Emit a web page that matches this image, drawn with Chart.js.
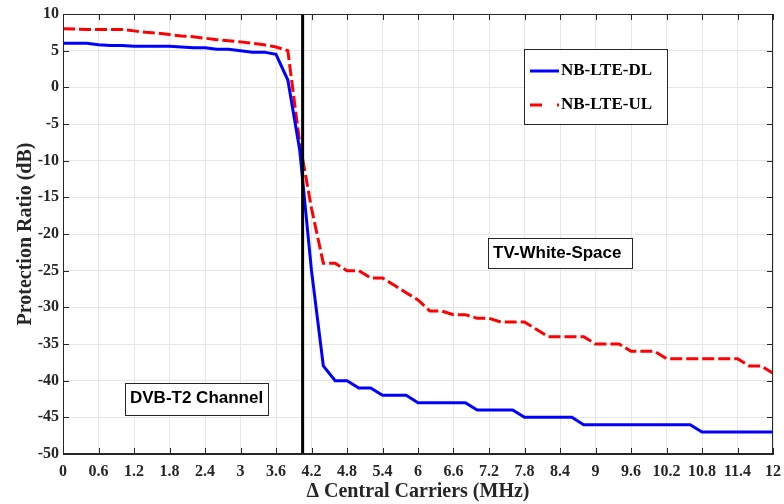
<!DOCTYPE html>
<html>
<head>
<meta charset="utf-8">
<script src="https://cdn.jsdelivr.net/npm/chart.js@4.4.1/dist/chart.umd.min.js"></script>
<style>
  html, body { margin: 0; padding: 0; background: #fff; }
  canvas { display: block; }
</style>
</head>
<body>
<canvas id="grafico" width="784" height="504"></canvas>
<script>
// Datos (separacion entre portadoras en MHz)
const frecuencias = [
  0, 0.2, 0.4, 0.6, 0.8, 1.0, 1.2, 1.4, 1.6, 1.8,
  2.0, 2.2, 2.4, 2.6, 2.8, 3.0, 3.2, 3.4, 3.6, 3.8,
  4.0, 4.2, 4.4, 4.6, 4.8, 5.0, 5.2, 5.4, 5.6, 5.8,
  6.0, 6.2, 6.4, 6.6, 6.8, 7.0, 7.2, 7.4, 7.6, 7.8,
  8.0, 8.2, 8.4, 8.6, 8.8, 9.0, 9.2, 9.4, 9.6, 9.8,
  10.0, 10.2, 10.4, 10.6, 10.8, 11.0, 11.2, 11.4, 11.6, 11.8, 12.0
];

// NB-LTE downlink (dB)
const nbLteDL = [
  6.0, 6.0, 6.0, 5.8, 5.7, 5.7, 5.6, 5.6, 5.6, 5.6,
  5.5, 5.4, 5.4, 5.2, 5.2, 5.0, 4.8, 4.8, 4.5, 1.0,
  -8.5, -25, -38, -40, -40, -41, -41, -42, -42, -42,
  -43, -43, -43, -43, -43, -44, -44, -44, -44, -45,
  -45, -45, -45, -45, -46, -46, -46, -46, -46, -46,
  -46, -46, -46, -46, -47, -47, -47, -47, -47, -47, -47
];

// NB-LTE uplink (dB)
const nbLteUL = [
  8.0, 7.95, 7.9, 7.9, 7.9, 7.9, 7.7, 7.5, 7.4, 7.2,
  7.0, 6.9, 6.7, 6.5, 6.35, 6.2, 6.0, 5.8, 5.5, 5.0,
  -7.5, -16.5, -24, -24, -25, -25, -26, -26, -27, -28,
  -29, -30.5, -30.5, -31, -31, -31.5, -31.5, -32, -32, -32,
  -33, -34, -34, -34, -34, -35, -35, -35, -36, -36,
  -36, -37, -37, -37, -37, -37, -37, -37, -38, -38, -39
];

// Limite del canal DVB-T2
const limiteCanal = [4.05, 4.05];
const limiteCanalY = [-50, 10];

const nombresSeries = ['NB-LTE-DL', 'NB-LTE-UL'];
const etiquetasAnotacion = ['TV-White-Space', 'DVB-T2 Channel'];

const tituloX = '\u0394 Central Carriers (MHz)';
const tituloY = 'Protection Ratio (dB)';

const fuenteSerif = '"Liberation Serif", "Times New Roman", serif';
const fuenteSans = '"Liberation Sans", Arial, sans-serif';
const colorEjes = '#262626';

function aPuntos(xs, ys) {
  return xs.map((x, i) => ({ x: x, y: ys[i] }));
}

// Plugin: marco, ticks hacia dentro, leyenda y recuadros de texto
const decoraciones = {
  id: 'decoraciones',
  afterDatasetsDraw(chart) {
    const ctx = chart.ctx;
    const area = chart.chartArea;
    const sx = chart.scales.x;
    const sy = chart.scales.y;
    const largo = 6;

    ctx.save();
    // marco
    ctx.strokeStyle = colorEjes;
    ctx.lineWidth = 1;
    ctx.strokeRect(area.left + 0.5, area.top + 0.5, area.right - area.left - 1, area.bottom - area.top - 1);

    // ticks hacia dentro
    ctx.beginPath();
    sx.ticks.forEach(t => {
      const px = Math.round(sx.getPixelForValue(t.value)) + 0.5;
      ctx.moveTo(px, area.bottom);
      ctx.lineTo(px, area.bottom - largo);
      ctx.moveTo(px, area.top);
      ctx.lineTo(px, area.top + largo);
    });
    sy.ticks.forEach(t => {
      const py = Math.round(sy.getPixelForValue(t.value)) + 0.5;
      ctx.moveTo(area.left, py);
      ctx.lineTo(area.left + largo, py);
      ctx.moveTo(area.right, py);
      ctx.lineTo(area.right - largo, py);
    });
    ctx.stroke();

    // recuadros de texto
    function recuadro(x1, y1, x2, y2, texto, tx, ty) {
      ctx.fillStyle = '#fff';
      ctx.fillRect(x1, y1, x2 - x1, y2 - y1);
      ctx.strokeStyle = colorEjes;
      ctx.lineWidth = 1;
      ctx.strokeRect(x1 + 0.5, y1 + 0.5, x2 - x1, y2 - y1);
      ctx.fillStyle = '#000';
      ctx.font = 'bold 17px ' + fuenteSans;
      ctx.textAlign = 'left';
      ctx.textBaseline = 'alphabetic';
      ctx.fillText(texto, tx, ty);
    }
    recuadro(488, 238, 632, 268, etiquetasAnotacion[0], 493, 257.5);
    recuadro(125, 383, 268, 415, etiquetasAnotacion[1], 130, 403);

    // leyenda
    ctx.fillStyle = '#fff';
    ctx.fillRect(524, 49, 144, 76);
    ctx.strokeStyle = colorEjes;
    ctx.strokeRect(524.5, 49.5, 143, 75);

    ctx.lineWidth = 3;
    ctx.strokeStyle = '#0000ff';
    ctx.beginPath();
    ctx.moveTo(530, 71);
    ctx.lineTo(559, 71);
    ctx.stroke();

    ctx.strokeStyle = '#ff0000';
    ctx.setLineDash([12, 15]);
    ctx.beginPath();
    ctx.moveTo(530, 105);
    ctx.lineTo(559, 105);
    ctx.stroke();
    ctx.setLineDash([]);

    ctx.fillStyle = '#000';
    ctx.font = 'bold 17px ' + fuenteSerif;
    ctx.textBaseline = 'middle';
    ctx.fillText(nombresSeries[0], 561, 71);
    ctx.fillText(nombresSeries[1], 561, 105);
    ctx.restore();
  }
};

const ctx = document.getElementById('grafico').getContext('2d');

new Chart(ctx, {
  type: 'line',
  data: {
    datasets: [
      {
        label: 'DVB-T2',
        data: aPuntos(limiteCanal, limiteCanalY),
        borderColor: '#000',
        borderWidth: 3,
        pointRadius: 0,
        tension: 0
      },
      {
        label: nombresSeries[0],
        data: aPuntos(frecuencias, nbLteDL),
        borderColor: '#0000ff',
        borderWidth: 3,
        pointRadius: 0,
        tension: 0
      },
      {
        label: nombresSeries[1],
        data: aPuntos(frecuencias, nbLteUL),
        borderColor: '#ff0000',
        borderWidth: 3,
        borderDash: [12, 4],
        pointRadius: 0,
        tension: 0
      }
    ]
  },
  options: {
    responsive: false,
    animation: false,
    devicePixelRatio: 1,
    layout: { padding: { top: 14, right: 11, left: 0, bottom: 0 } },
    plugins: {
      legend: { display: false },
      tooltip: { enabled: false }
    },
    scales: {
      x: {
        type: 'linear',
        min: 0,
        max: 12,
        afterFit: s => {
          s.height = 50;
          s.paddingLeft = 0;
          s.paddingRight = 0;
        },
        ticks: {
          stepSize: 0.6,
          autoSkip: false,
          maxRotation: 0,
          padding: 8,
          color: colorEjes,
          font: { family: fuenteSerif, size: 16, weight: 'bold' },
          callback: v => String(Number(v.toFixed(1)))
        },
        grid: { color: '#e6e6e6', lineWidth: 1, drawTicks: false },
        border: { display: true, color: colorEjes },
        title: {
          display: true,
          text: tituloX,
          color: colorEjes,
          padding: { top: 0, bottom: 0 },
          font: { family: fuenteSerif, size: 20, weight: 'bold' }
        }
      },
      y: {
        min: -50,
        max: 10,
        afterFit: s => {
          s.width = 63;
          s.paddingTop = 0;
          s.paddingBottom = 0;
        },
        ticks: {
          stepSize: 5,
          padding: 4,
          color: colorEjes,
          font: { family: fuenteSerif, size: 16, weight: 'bold' }
        },
        grid: { color: '#e6e6e6', lineWidth: 1, drawTicks: false },
        border: { display: true, color: colorEjes },
        title: {
          display: true,
          text: tituloY,
          color: colorEjes,
          padding: { top: 14, bottom: 0 },
          font: { family: fuenteSerif, size: 20, weight: 'bold' }
        }
      }
    }
  },
  plugins: [decoraciones]
});
</script>
</body>
</html>
